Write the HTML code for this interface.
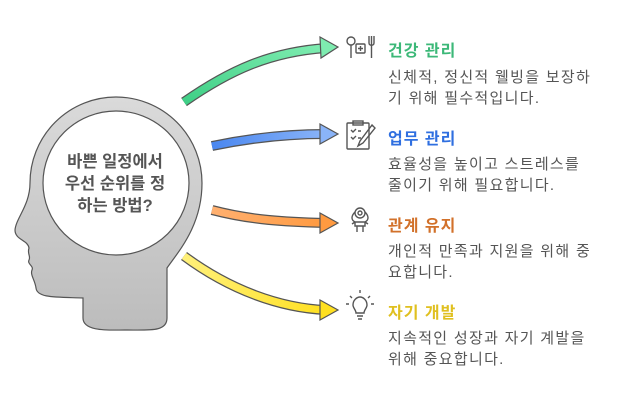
<!DOCTYPE html>
<html><head><meta charset="utf-8"><style>
body{margin:0;width:618px;height:405px;background:#fff;overflow:hidden;font-family:"Liberation Sans","Noto Sans CJK KR",sans-serif}
.t{position:absolute;left:388px;font-size:16px;letter-spacing:1px;font-weight:bold}
.d{position:absolute;left:388px;font-size:15px;letter-spacing:1.3px;color:#555;line-height:21px;width:235px;white-space:nowrap}
</style></head><body>
<svg width="618" height="405" style="position:absolute;left:0;top:0">
<defs>
<linearGradient id="hg" x1="0" y1="0" x2="0" y2="1"><stop offset="0" stop-color="#dadada"/><stop offset="1" stop-color="#bcbcbc"/></linearGradient>
<linearGradient id="g1" x1="0" y1="1" x2="1" y2="0"><stop offset="0" stop-color="#3fcf86"/><stop offset="1" stop-color="#7eecb0"/></linearGradient>
<linearGradient id="g2" x1="0" y1="0" x2="1" y2="0"><stop offset="0" stop-color="#4a87f0"/><stop offset="1" stop-color="#8ab4f8"/></linearGradient>
<linearGradient id="g3" x1="0" y1="0" x2="1" y2="0"><stop offset="0" stop-color="#ffb070"/><stop offset="1" stop-color="#ff9a40"/></linearGradient>
<linearGradient id="g4" x1="0" y1="0" x2="1" y2="0"><stop offset="0" stop-color="#fff07a"/><stop offset="1" stop-color="#ffe020"/></linearGradient>
</defs>
<path d="M167,318 L167,268 C178,252 202,226 202,183 A86,86 0 0 0 30,183 C30,205 16,218 15,230 C15,240 28,240 29,248 C27,254 31,256 29,260 C27,264 34,266 32,270 C30,275 35,280 36,288 C37,298 55,297 83,298 L83,318 C83,332 110,330 125,330 C150,330 167,332 167,318 Z" fill="url(#hg)" stroke="#555" stroke-width="1.2"/>
<ellipse cx="116" cy="183" rx="73" ry="72" fill="#fff" stroke="#555" stroke-width="1.2"/>
<text font-size="16.5" font-weight="bold" fill="#555" text-anchor="middle" font-family="Liberation Sans,Noto Sans CJK KR,sans-serif"><tspan x="115" y="167">바쁜 일정에서</tspan><tspan x="115" y="189">우선 순위를 정</tspan><tspan x="115" y="211">하는 방법?</tspan></text>
<g stroke-linecap="butt" fill="none">
<path d="M184,102 C230,70 270,52 326,48" stroke="#555" stroke-width="10"/>
<path d="M184,102 C230,70 270,52 326,48" stroke="url(#g1)" stroke-width="7.5"/>
<path d="M212,146 C250,138 285,134 326,134" stroke="#555" stroke-width="10"/>
<path d="M212,146 C250,138 285,134 326,134" stroke="url(#g2)" stroke-width="7.5"/>
<path d="M212,210 C250,220 285,222 326,223" stroke="#555" stroke-width="10"/>
<path d="M212,210 C250,220 285,222 326,223" stroke="url(#g3)" stroke-width="7.5"/>
<path d="M184,256 C230,290 280,308 326,310" stroke="#555" stroke-width="10"/>
<path d="M184,256 C230,290 280,308 326,310" stroke="url(#g4)" stroke-width="7.5"/>
</g>
<g stroke="#555" stroke-width="1.2">
<polygon points="320,37 338,47 321,58" fill="#7eecb0"/>
<polygon points="320,124 338,134 320,144" fill="#8ab4f8"/>
<polygon points="320,213 338,223 320,233" fill="#ff9a40"/>
<polygon points="320,300 338,310 320,320" fill="#ffe020"/>
</g>
<g stroke="#555" stroke-width="1.4" fill="none">
<circle cx="351" cy="41" r="4"/><line x1="351" y1="45" x2="351" y2="58"/>
<rect x="356" y="44" width="9" height="9" rx="1"/><path d="M358,48.5h5M360.5,46v5"/>
<path d="M369,36v7c0,3 5,3 5,0v-7M371.5,36v22"/>
<rect x="347" y="123" width="22" height="26" rx="1"/><rect x="353" y="121" width="10" height="4"/>
<path d="M351,130l2,2 3,-3M351,137l2,2 3,-3M358,131h3M358,138h3"/><path d="M372,125l-12,16-2,5 5,-3 12,-15z"/>
<circle cx="360" cy="213" r="5"/><circle cx="360" cy="213" r="2"/><path d="M355,222h10v4h-10zM357,226v6M363,226v6M352,224l3,-2M368,224l-3,-2M355,212c-4,4 -4,8 0,10M365,212c4,4 4,8 0,10"/>
<path d="M353,305c0,-5 4,-8 7,-8s7,3 7,8c0,3 -3,5 -3,8h-8c0,-3 -3,-5 -3,-8zM357,316h6M358,319h4"/>
<path d="M360,290v3M350,296l2,2M370,296l-2,2M346,304h3M371,304h3"/>
</g>
</svg>
<div class="t" style="top:37px;color:#3cb878">건강 관리</div>
<div class="d" style="top:67px">신체적, 정신적 웰빙을 보장하<br>기 위해 필수적입니다.</div>
<div class="t" style="top:125px;color:#2f6fe0">업무 관리</div>
<div class="d" style="top:154px">효율성을 높이고 스트레스를<br>줄이기 위해 필요합니다.</div>
<div class="t" style="top:212px;color:#d2712a">관계 유지</div>
<div class="d" style="top:241px">개인적 만족과 지원을 위해 중<br>요합니다.</div>
<div class="t" style="top:299px;color:#e0c020">자기 개발</div>
<div class="d" style="top:328px">지속적인 성장과 자기 계발을<br>위해 중요합니다.</div>
</body></html>
